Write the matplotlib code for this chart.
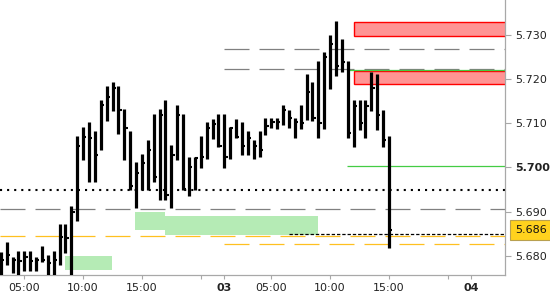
import matplotlib
matplotlib.use('Agg')
import matplotlib.pyplot as plt
from matplotlib.patches import Rectangle
import matplotlib.transforms as mtransforms

plt.rcParams['lines.scale_dashes'] = False
plt.rcParams['font.family'] = ['DejaVu Sans']

# ---- data: 30-minute bars, slot 0 = day 2 05:00 ----
slots = list(range(-4, 63))
highs = [5.6810, 5.6832, 5.6798, 5.6811, 5.6811, 5.6811, 5.6798, 5.6823, 5.6802, 5.6811,
         5.6872, 5.6872, 5.6914, 5.7071, 5.7092, 5.7103, 5.7083, 5.7153, 5.7183, 5.7194,
         5.7183, 5.7132, 5.7083, 5.7013, 5.7031, 5.7062, 5.7121, 5.7132, 5.7153, 5.7051,
         5.7141, 5.7121, 5.7023, 5.7023, 5.7071, 5.7103, 5.7109, 5.7121, 5.7121, 5.7091,
         5.7109, 5.7103, 5.7083, 5.7062, 5.7083, 5.7111, 5.7111, 5.7111, 5.7141, 5.7131,
         5.7111, 5.7141, 5.7211, 5.7194, 5.7241, 5.7262, 5.7299, 5.7331, 5.7290, 5.7241,
         5.7153, 5.7153, 5.7153, 5.7216, 5.7211, 5.7131, 5.7071]
lows = [5.6745, 5.6780, 5.6761, 5.6745, 5.6767, 5.6767, 5.6767, 5.6787, 5.6745, 5.6745,
        5.6780, 5.6806, 5.6745, 5.6878, 5.7017, 5.6968, 5.6968, 5.7039, 5.7105, 5.7128,
        5.7076, 5.7017, 5.6949, 5.6908, 5.6949, 5.6949, 5.6968, 5.6927, 5.6927, 5.6908,
        5.7017, 5.6949, 5.6936, 5.6949, 5.6998, 5.7019, 5.7065, 5.7047, 5.6998, 5.7019,
        5.7066, 5.7028, 5.7028, 5.7019, 5.7023, 5.7073, 5.7089, 5.7086, 5.7096, 5.7089,
        5.7066, 5.7086, 5.7107, 5.7106, 5.7066, 5.7086, 5.7177, 5.7207, 5.7216, 5.7066,
        5.7047, 5.7085, 5.7066, 5.7128, 5.7085, 5.7047, 5.6818]
closes = [5.6791, 5.6802, 5.6791, 5.6789, 5.6798, 5.6789, 5.6791, 5.6791, 5.6785, 5.6791,
          5.6844, 5.6841, 5.6900, 5.7049, 5.7068, 5.7067, 5.7028, 5.7141, 5.7159, 5.7179,
          5.7130, 5.7089, 5.6958, 5.6988, 5.7010, 5.7039, 5.6979, 5.7119, 5.6938, 5.7028,
          5.7119, 5.6951, 5.7000, 5.7021, 5.7023, 5.7089, 5.7098, 5.7049, 5.7023, 5.7089,
          5.7070, 5.7049, 5.7066, 5.7049, 5.7039, 5.7094, 5.7103, 5.7103, 5.7130, 5.7111,
          5.7103, 5.7100, 5.7171, 5.7111, 5.7101, 5.7250, 5.7279, 5.7230, 5.7238, 5.7079,
          5.7139, 5.7100, 5.7139, 5.7179, 5.7119, 5.7061, 5.6859]
last_price = 5.6859
last_label = '5.686'

# x axis ticks
xtick_slots = [0, 10, 20, 30, 34, 42, 52, 62, 72, 76]
xtick_labels = ['05:00', '10:00', '15:00', '', '03', '05:00', '10:00', '15:00', '', '04']
bold_xlabels = ['03', '04']
# y axis ticks
yticks = [5.680, 5.690, 5.700, 5.710, 5.720, 5.730]
bold_ylabel = '5.700'

# horizontal levels: (price, start slot, style)
gray_levels = [(5.72670, 34.0), (5.72218, 34.0), (5.69055, None)]
orange_levels = [(5.68445, None), (5.68264, 34.0)]
dotted_level = 5.69498
green_lines = [(5.72196, 54.8), (5.70033, 54.8)]
black_dash_level = (5.68490, 45.0)
# red zones: (start slot, price low, price high) extend to right edge
red_zones = [(56.0, 5.72964, 5.73280), (56.0, 5.71879, 5.72180)]
# green zones: (start slot, end slot, price low, price high)
green_zones = [(6.9, 14.9, 5.67689, 5.67999),
               (18.8, 23.9, 5.68587, 5.68994),
               (23.9, 49.9, 5.68481, 5.68904)]

XMIN, XMAX = -4.13, 81.73
YMIN, YMAX = 5.67571, 5.73784

fig = plt.figure(figsize=(5.5, 3.0), dpi=100)
ax = fig.add_axes([0, 25 / 300, 505 / 550, 275 / 300])
ax.set_xlim(XMIN, XMAX)
ax.set_ylim(YMIN, YMAX)

# zones
for s0, s1, lo, hi in green_zones:
    ax.add_patch(Rectangle((s0, lo), s1 - s0, hi - lo, facecolor='#B5EBB5',
                           edgecolor='none', zorder=1))
for s0, lo, hi in red_zones:
    ax.add_patch(Rectangle((s0, lo), XMAX + 1 - s0, hi - lo, facecolor='#FF9494',
                           edgecolor='#FF0000', lw=1.0, zorder=1))

# lines
for p, s in gray_levels:
    ax.hlines(p, XMIN if s is None else s, XMAX, colors='#808080', lw=0.9,
              linestyles=(0, (18, 7.2)), zorder=2)
for p, s in orange_levels:
    ax.hlines(p, XMIN if s is None else s, XMAX, colors='#FFC020', lw=0.9,
              linestyles=(0, (18, 7.2)), zorder=2)
ax.hlines(dotted_level, XMIN, XMAX, colors='black', lw=1.5,
          linestyles=(0, (1.5, 3.6)), zorder=2)
for p, s in green_lines:
    ax.hlines(p, s, XMAX, colors='#44CC44', lw=0.9, zorder=2)
ax.hlines(black_dash_level[0], black_dash_level[1], XMAX, colors='black', lw=0.9,
          linestyles=(0, (2.4, 1.4)), zorder=2)

# bars
ax.vlines(slots, lows, highs, colors='black', lw=2.3, zorder=3)
ax.hlines(closes, slots, [s + 0.55 for s in slots], colors='black', lw=1.5, zorder=3)

# spines
for sp in ['top', 'left']:
    ax.spines[sp].set_visible(False)
for sp in ['right', 'bottom']:
    ax.spines[sp].set_color('#A8A8A8')
    ax.spines[sp].set_linewidth(0.9)

ax.yaxis.tick_right()
ax.set_yticks(yticks)
ax.set_yticklabels([f'{v:.3f}' for v in yticks])
ax.tick_params(axis='y', which='both', length=4, width=0.8, color='#A8A8A8',
               labelsize=8, labelcolor='#222222', pad=3)
for t in ax.get_yticklabels():
    if t.get_text() == bold_ylabel:
        t.set_fontweight('bold')

ax.set_xticks(xtick_slots)
ax.set_xticklabels(xtick_labels)
ax.tick_params(axis='x', length=3, width=0.8, color='#A8A8A8',
               labelsize=8, labelcolor='#222222', pad=3)
for t in ax.get_xticklabels():
    if t.get_text() in bold_xlabels:
        t.set_fontweight('bold')

# current price label
ax.annotate(last_label, xy=(1, last_price), xycoords=('axes fraction', 'data'),
            xytext=(10, 0), textcoords='offset pixels', ha='left', va='center',
            fontsize=8, color='#111111', annotation_clip=False,
            bbox=dict(boxstyle='square,pad=0.45', facecolor='#FFD21E',
                      edgecolor='#B8A050', lw=0.8))

fig.savefig('out.png', dpi=100)
